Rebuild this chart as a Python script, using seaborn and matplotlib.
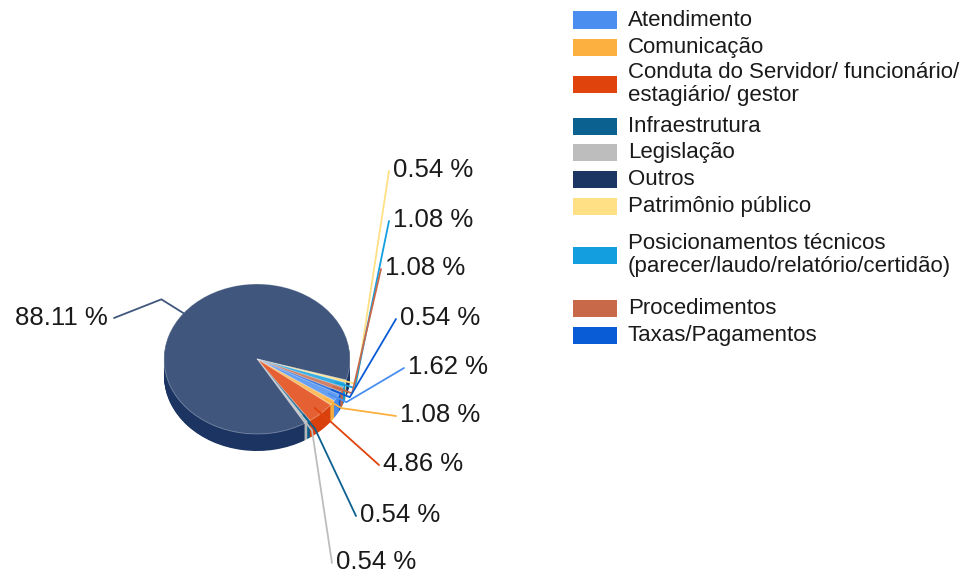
import numpy as np
import matplotlib
matplotlib.use("Agg")
import matplotlib.pyplot as plt
import matplotlib.colors as mcolors
from matplotlib.patches import Rectangle
import seaborn as sns

# ---------------- data ----------------
categories = [
    "Atendimento",
    "Comunicação",
    "Conduta do Servidor/ funcionário/\nestagiário/ gestor",
    "Infraestrutura",
    "Legislação",
    "Outros",
    "Patrimônio público",
    "Posicionamentos técnicos\n(parecer/laudo/relatório/certidão)",
    "Procedimentos",
    "Taxas/Pagamentos",
]
values = [1.62, 1.08, 4.86, 0.54, 0.54, 88.11, 0.54, 1.08, 1.08, 0.54]
colors = ["#4a8ef0", "#fbb040", "#e0430c", "#0b6190", "#bdbdbd",
          "#1c3664", "#ffe085", "#139fdf", "#c8694a", "#0a5bd6"]

# ---------------- layout ----------------
W, H = 972, 579
CX, CY, RX, RY = 257, 359, 93, 75       # pie centre / radii in pixels
DEPTH = 17                               # 3D side depth in pixels
START = -28                              # start angle, clockwise order
# label text anchors (pixel x, pixel y, alignment), same order as categories
label_pos = [(408, 367, "left"), (400, 415, "left"), (383, 464, "left"),
             (360, 515, "left"), (336, 562, "left"), (108, 318, "right"),
             (393, 170, "left"), (393, 220, "left"), (385, 268, "left"),
             (400, 318, "left")]
legend_rows = [20, 47, 84, 126, 152, 179, 206, 255, 308, 335]
LEG_X0, LEG_X1, LEG_TX, LEG_H = 573, 617, 628, 17

sns.set_theme(style="white")
FONT = ["Liberation Sans", "DejaVu Sans"]
plt.rcParams["font.family"] = FONT

def P(px, py):
    return (px - CX) / RX, (CY - py) / RY

def lighten(c, f):
    r, g, b = mcolors.to_rgb(c)
    return (r + (1 - r) * f, g + (1 - g) * f, b + (1 - b) * f)

def darken(c, f):
    r, g, b = mcolors.to_rgb(c)
    return (r * f, g * f, b * f)

fig = plt.figure(figsize=(W / 100, H / 100), dpi=100)
ax = fig.add_axes([0, 0, 1, 1])

pal = sns.color_palette(colors)
top_cols = [lighten(c, 0.16) for c in pal]
side_cols = [darken(c, 0.97) for c in pal]

# side of the 3D pie: stacked layers
d = DEPTH / RY
n_layers = 24
for k in range(n_layers, 0, -1):
    off = d * k / n_layers
    ax.pie(values, colors=side_cols, startangle=START, counterclock=False,
           radius=1, center=(0, -off), frame=True,
           wedgeprops=dict(linewidth=0, antialiased=True))
# top face
wedges, _ = ax.pie(values, colors=top_cols, startangle=START, counterclock=False,
                   radius=1, center=(0, 0), frame=True,
                   wedgeprops=dict(linewidth=0.6, edgecolor=(1, 1, 1, 0.35)))

# leader lines and labels
for w, v, c, tc, (tx, ty, ha) in zip(wedges, values, pal, top_cols, label_pos):
    mid = np.deg2rad((w.theta1 + w.theta2) / 2)
    if ha == "right":
        rim = (1.0 * np.cos(mid), 1.0 * np.sin(mid))
        elb = (1.3 * np.cos(mid), 1.3 * np.sin(mid))
        end = P(tx + 6, ty)
        lc = tc
    else:
        rim = (0.9 * np.cos(mid), 0.9 * np.sin(mid))
        elb = (1.12 * np.cos(mid), 1.12 * np.sin(mid))
        end = P(tx - 4, ty + 1)
        lc = c
    ax.plot([rim[0], elb[0], end[0]], [rim[1], elb[1], end[1]],
            color=lc, lw=1.3, solid_capstyle="round", zorder=5)
    x, y = P(tx, ty)
    ax.text(x, y, f"{v:.2f} %", ha=ha, va="center", fontsize=18.5,
            color="#1a1a1a", family=FONT, zorder=6)

# legend
for cat, c, ry in zip(categories, pal, legend_rows):
    x0, y0 = P(LEG_X0, ry + LEG_H / 2)
    x1, y1 = P(LEG_X1, ry - LEG_H / 2)
    ax.add_patch(Rectangle((x0, y0), x1 - x0, y1 - y0, facecolor=c,
                           edgecolor="none", zorder=4))
    tx, ty = P(LEG_TX, ry)
    ax.text(tx, ty, cat, ha="left", va="center", fontsize=16,
            color="#1a1a1a", family=FONT, linespacing=1.08)

ax.set_xlim((0 - CX) / RX, (W - CX) / RX)
ax.set_ylim((CY - H) / RY, CY / RY)
ax.set_aspect("auto")
ax.axis("off")

fig.savefig("out.png", dpi=100, facecolor="white")
